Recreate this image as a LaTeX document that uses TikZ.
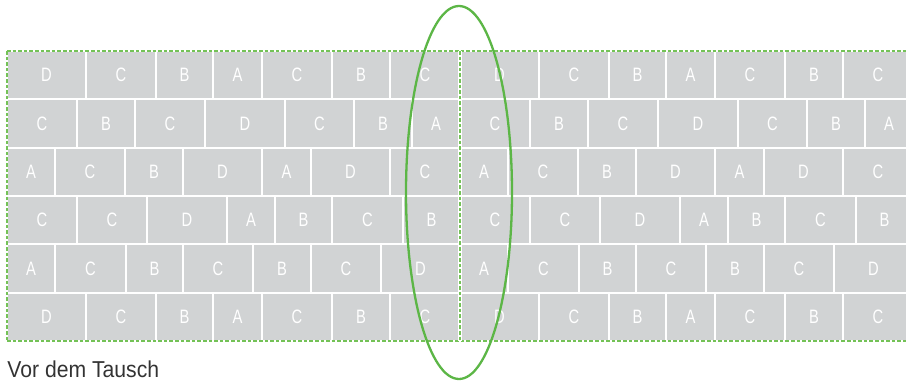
\documentclass[tikz,border=0pt]{standalone}
\usepackage{fontspec}
\setmainfont{Liberation Sans}[FakeStretch=0.76]
\newfontfamily\capfont{Liberation Sans}[FakeStretch=0.92]

\definecolor{brickgray}{HTML}{D1D3D4}
\definecolor{seamgreen}{HTML}{74C257}
\definecolor{ringgreen}{HTML}{5CB646}
\definecolor{captiongray}{HTML}{333333}

\tikzset{
  brickfill/.style={fill=brickgray},
  bricklabel/.style={text=white, font=\fontsize{9.7pt}{11pt}\selectfont, inner sep=0pt},
  greendash/.style={draw=seamgreen, line width=0.75pt, dash pattern=on 1.8pt off 1pt},
  ring/.style={draw=ringgreen, line width=1.15pt},
  caption/.style={text=captiongray, font=\capfont\fontsize{11.5pt}{13pt}\selectfont, inner sep=0pt}
}

% one row of bricks, drawn twice (left block and its copy)
\newcommand{\brickrow}[3]{%
  \foreach \s in {0,453} {
    \foreach \xa/\xb/\t [count=\i] in {#3} {
      \fill[brickfill] (\s+\xa+1,#2+1) rectangle (\s+\xb-1,#2+47.3);
      \node[bricklabel] (b#1-\i-\s) at ({\s+(\xa+\xb)/2},#2+24.2) {\t};
    }
  }%
}

\begin{document}
\begin{tikzpicture}[x=0.5pt,y=-0.5pt]
\useasboundingbox (0,0) rectangle (906,381);
\clip (0,0) rectangle (906,381);

\brickrow{1}{51}{7/86/D, 86/156/C, 156/213/B, 213/262/A, 262/332/C, 332/390/B, 390/460/C}
\brickrow{2}{99.33}{7/77/C, 77/135/B, 135/205/C, 205/285/D, 285/354/C, 354/412/B, 412/460/A}
\brickrow{3}{147.67}{7/55/A, 55/125/C, 125/183/B, 183/262/D, 262/311/A, 311/390/D, 390/460/C}
\brickrow{4}{196}{7/77/C, 77/147/C, 147/227/D, 227/275/A, 275/332/B, 332/403/C, 403/460/B}
\brickrow{5}{244.33}{7/55/A, 55/126/C, 126/183/B, 183/253/C, 253/311/B, 311/381/C, 381/460/D}
\brickrow{6}{292.67}{7/86/D, 86/156/C, 156/213/B, 213/262/A, 262/332/C, 332/390/B, 390/460/C}

% borders
\coordinate (tl) at (7,51);
\coordinate (bl) at (7,341);
\coordinate (tr) at (906,51);
\coordinate (br) at (906,341);
\coordinate (st) at (460,51);
\coordinate (sb) at (460,341);
\draw[greendash] (tl) -- (tr);
\draw[greendash] (bl) -- (br);
\draw[greendash] (tl) -- (bl);
\draw[white, line width=1.6pt] (st) -- (sb);
\draw[greendash] (st) -- (sb);

% swap zone
\draw[ring] (459,192.5) ellipse [x radius=53, y radius=186.5];

\node[caption, anchor=base west] (title) at (7,377.5) {Vor dem Tausch};
\end{tikzpicture}
\end{document}
